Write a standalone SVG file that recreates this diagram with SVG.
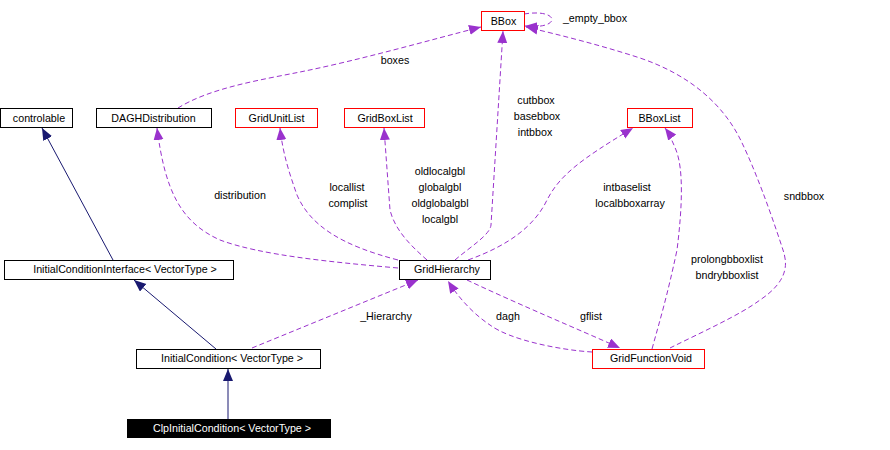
<svg xmlns="http://www.w3.org/2000/svg" width="890" height="450" viewBox="0 0 890 450">
<style>
text{font-family:"Liberation Sans",Arial,sans-serif;font-size:10.7px;fill:#000}
.n rect{fill:#fff;stroke:#000;stroke-width:1}
.n.r rect{stroke:#f00}
.n text{text-anchor:middle}
.n.s rect{fill:#000;stroke:#000}
.n.s text{fill:#fff}
.e{fill:none;stroke-width:1}
.inh{stroke:#191970}
.use{stroke:#9a32cd;stroke-dasharray:5,3}
.lbl{text-anchor:middle}
</style>
<defs>
<marker id="ah" markerUnits="userSpaceOnUse" markerWidth="13" markerHeight="11" refX="12" refY="5" orient="auto">
<path d="M0,0 L12,5 L0,10 z" fill="#191970"/>
</marker>
<marker id="ap" markerUnits="userSpaceOnUse" markerWidth="13" markerHeight="11" refX="12" refY="5" orient="auto">
<path d="M0,0 L12,5 L0,10 z" fill="#9a32cd"/>
</marker>
</defs>
<rect width="890" height="450" fill="#fff"/>
<g id="connectors">
<path class="e inh" d="M113,260 L42,128" marker-end="url(#ah)"/>
<path class="e inh" d="M216,349 L134,280" marker-end="url(#ah)"/>
<path class="e inh" d="M228,419 L228,369" marker-end="url(#ah)"/>
<path class="e use" d="M178,108 C210,88 260,80 300,72 C360,60 430,40 481,27" marker-end="url(#ap)"/>
<path class="e use" d="M524,14 C560,8 562,30 525,26" marker-end="url(#ap)"/>
<path class="e use" d="M455,260 C470,247 490,235 491,225 L503,31" marker-end="url(#ap)"/>
<path class="e use" d="M398,260 C340,245 310,225 297,195 C290,175 283,155 280,128" marker-end="url(#ap)"/>
<path class="e use" d="M398,268 C330,262 260,255 220,240 C180,222 165,190 157,128" marker-end="url(#ap)"/>
<path class="e use" d="M427,260 C410,245 395,230 390,210 L384,128" marker-end="url(#ap)"/>
<path class="e use" d="M468,260 C510,245 535,225 547,200 C560,175 580,160 633,128" marker-end="url(#ap)"/>
<path class="e use" d="M652,349 C660,320 667,297 677,250 C682,210 684,170 676,150 C672,140 668,132 665,128" marker-end="url(#ap)"/>
<path class="e use" d="M670,348 C700,333 740,315 760,300 C790,280 787,262 783,250 C770,210 755,170 743,145 C725,105 690,75 640,58 C600,45 560,35 526,27" marker-end="url(#ap)"/>
<path class="e use" d="M252,348 L418,280" marker-end="url(#ap)"/>
<path class="e use" d="M592,352 C560,350 510,340 490,325 C475,315 460,300 448,281" marker-end="url(#ap)"/>
<path class="e use" d="M467,280 C520,305 580,330 620,348" marker-end="url(#ap)"/>
<text class="lbl" x="395" y="64">boxes</text>
<text class="lbl" x="595" y="22">_empty_bbox</text>
<text class="lbl" x="536" y="104">cutbbox</text>
<text class="lbl" x="537" y="120">basebbox</text>
<text class="lbl" x="535" y="136">intbbox</text>
<text class="lbl" x="347" y="191">locallist</text>
<text class="lbl" x="348" y="207">complist</text>
<text class="lbl" x="440" y="175">oldlocalgbl</text>
<text class="lbl" x="440" y="191">globalgbl</text>
<text class="lbl" x="440" y="207">oldglobalgbl</text>
<text class="lbl" x="440" y="223">localgbl</text>
<text class="lbl" x="240" y="199">distribution</text>
<text class="lbl" x="627" y="191">intbaselist</text>
<text class="lbl" x="630" y="207">localbboxarray</text>
<text class="lbl" x="804" y="200">sndbbox</text>
<text class="lbl" x="727" y="263">prolongbboxlist</text>
<text class="lbl" x="727" y="279">bndrybboxlist</text>
<text class="lbl" x="386" y="320">_Hierarchy</text>
<text class="lbl" x="508" y="320">dagh</text>
<text class="lbl" x="591" y="320">gflist</text>
</g>
<g id="controlable" class="n"><rect x="0.5" y="108.5" width="72" height="19"/><text x="39" y="121.5">controlable</text></g>
<g id="DAGHDistribution" class="n"><rect x="96.5" y="108.5" width="115" height="19"/><text x="153.5" y="121.5">DAGHDistribution</text></g>
<g id="GridUnitList" class="n r"><rect x="235.5" y="108.5" width="82" height="19"/><text x="276.5" y="121.5">GridUnitList</text></g>
<g id="GridBoxList" class="n r"><rect x="344.5" y="108.5" width="80" height="19"/><text x="385" y="121.5">GridBoxList</text></g>
<g id="BBox" class="n r"><rect x="481.5" y="11.5" width="43" height="19"/><text x="503.5" y="24.5">BBox</text></g>
<g id="BBoxList" class="n r"><rect x="627.5" y="108.5" width="65" height="19"/><text x="659.5" y="121.5">BBoxList</text></g>
<g id="InitialConditionInterface" class="n"><rect x="4.5" y="260.5" width="229" height="19"/><text x="125" y="273">InitialConditionInterface&lt; VectorType &gt;</text></g>
<g id="GridHierarchy" class="n"><rect x="399.5" y="260.5" width="91" height="19"/><text x="447" y="273">GridHierarchy</text></g>
<g id="InitialCondition" class="n"><rect x="136.5" y="349.5" width="184" height="19"/><text x="232" y="362">InitialCondition&lt; VectorType &gt;</text></g>
<g id="GridFunctionVoid" class="n r"><rect x="592.5" y="349.5" width="112" height="19"/><text x="651" y="362">GridFunctionVoid</text></g>
<g id="ClpInitialCondition" class="n s"><rect x="127.5" y="419.5" width="203" height="18"/><text x="232" y="432">ClpInitialCondition&lt; VectorType &gt;</text></g>
</svg>
